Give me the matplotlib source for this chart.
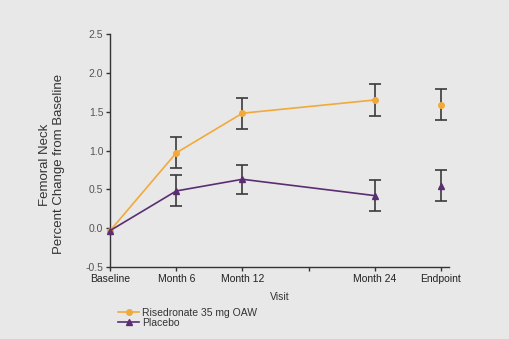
import matplotlib.pyplot as plt

plt.rcParams['font.family'] = ['Liberation Sans', 'DejaVu Sans']

visits = ['Baseline', 'Month 6', 'Month 12', '', 'Month 24', 'Endpoint']
pos = [0, 1, 2, 4]
end_pos = 5

ris = [-0.03, 0.97, 1.48, 1.65]
ris_err = [0.0, 0.20, 0.20, 0.20]
ris_end = 1.59
ris_end_err = 0.20

pla = [-0.03, 0.48, 0.63, 0.42]
pla_err = [0.0, 0.20, 0.19, 0.20]
pla_end = 0.55
pla_end_err = 0.20

bg = '#e8e8e8'
orange = '#f2a93b'
purple = '#5b2e72'
ecol = '#3a3a3a'

fig = plt.figure(figsize=(5.10, 3.39), dpi=100, facecolor=bg)
ax = fig.add_axes([0.216, 0.212, 0.664, 0.688], facecolor=bg)

ax.plot(pos, ris, color=orange, lw=1.2, marker='o', ms=4, clip_on=False, zorder=3,
        label='Risedronate 35 mg OAW')
ax.plot(pos, pla, color=purple, lw=1.2, marker='^', ms=5, clip_on=False, zorder=3,
        label='Placebo')
ax.errorbar(pos[1:], ris[1:], yerr=ris_err[1:], fmt='none', ecolor=ecol, elinewidth=1.2,
            capsize=4, capthick=1.2, zorder=2)
ax.errorbar(pos[1:], pla[1:], yerr=pla_err[1:], fmt='none', ecolor=ecol, elinewidth=1.2,
            capsize=4, capthick=1.2, zorder=2)
ax.errorbar([end_pos], [ris_end], yerr=ris_end_err, fmt='o', color=orange, ms=4,
            ecolor=ecol, elinewidth=1.2, capsize=4, capthick=1.2, zorder=3)
ax.errorbar([end_pos], [pla_end], yerr=pla_end_err, fmt='^', color=purple, ms=5,
            ecolor=ecol, elinewidth=1.2, capsize=4, capthick=1.2, zorder=3)

ax.set_xlim(0, 5.12)
ax.set_ylim(-0.5, 2.5)
ax.set_xticks(range(6))
ax.set_xticklabels(visits, fontsize=7.5, color='#222222')
ax.set_yticks([-0.5, 0, 0.5, 1.0, 1.5, 2.0, 2.5])
ax.set_yticklabels(['-0.5', '0.0', '0.5', '1.0', '1.5', '2.0', '2.5'], fontsize=7.5, color='#555555')
ax.tick_params(length=3, width=1, color='#333333', pad=2)
for s in ['top', 'right']:
    ax.spines[s].set_visible(False)
for s in ['left', 'bottom']:
    ax.spines[s].set_color('#333333')
    ax.spines[s].set_linewidth(1)

ax.set_xlabel('Visit', fontsize=7.5, color='#333333', labelpad=6)
fig.text(0.102, 0.515, 'Femoral Neck\nPercent Change from Baseline', rotation=90,
         ha='center', va='center', fontsize=9.5, color='#333333', linespacing=1.3)

ax.legend(loc='upper left', bbox_to_anchor=(0.222, 0.108), bbox_transform=fig.transFigure,
          frameon=False, fontsize=7.5, handlelength=2.0, handletextpad=0.3,
          labelspacing=0.0, borderpad=0, labelcolor='#333333')

fig.savefig('out.png', dpi=100, facecolor=bg)
